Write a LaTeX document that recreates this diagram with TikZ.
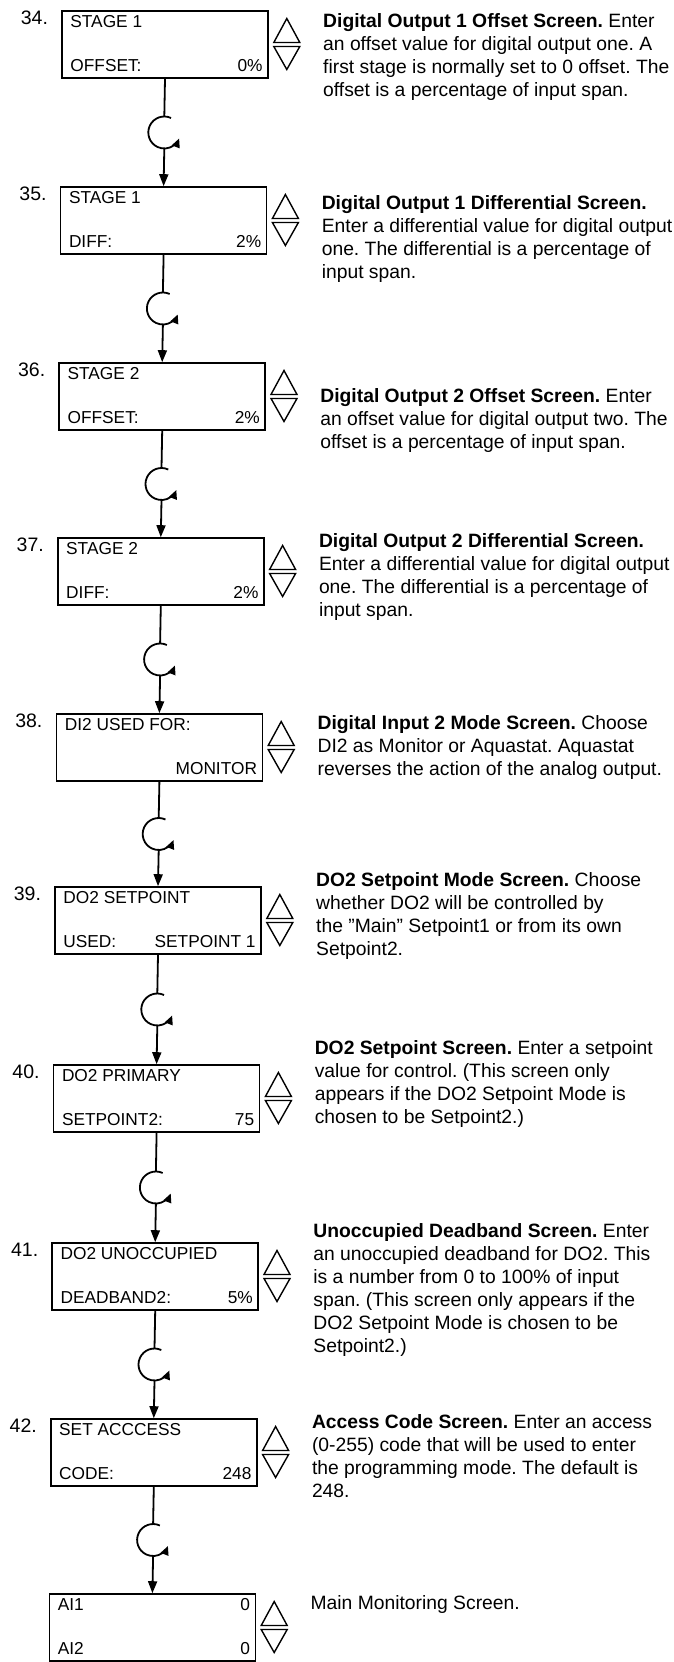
\documentclass[tikz,border=0pt]{standalone}
\usepackage{fontspec}
\setmainfont{Liberation Sans}
\usetikzlibrary{arrows.meta,calc}
\frenchspacing

\tikzset{
  screen/.style={draw, line width=1.6pt, minimum width=206pt, minimum height=67pt, inner sep=0pt},
  lcd/.style={font=\fontsize{17.3pt}{20pt}\selectfont, inner sep=0pt},
  stepno/.style={font=\fontsize{19.5pt}{23pt}\selectfont, inner sep=0pt, anchor=base east},
  blurb/.style={font=\fontsize{19.3pt}{23pt}\selectfont, inner sep=0pt, align=left, anchor=north west},
  flow/.style={line width=1.8pt},
  updown/.pic={
    \draw[line width=1.4pt] (0pt,2pt) -- (13pt,26pt) -- (26pt,2pt) -- cycle;
    \draw[line width=1.4pt] (0pt,-2pt) -- (13pt,-25pt) -- (26pt,-2pt) -- cycle;
  }
}

\begin{document}
\begin{tikzpicture}[x=1pt,y=-1pt]
\fill[white] (0,0) rectangle (673,1662);
\useasboundingbox (0,0) rectangle (673,1662);

% the screens, one below the other
\foreach \i/\top/\tl/\bl/\br in {
0/11/{STAGE 1}/{OFFSET:}/{0\%},
1/187/{STAGE 1}/{DIFF:}/{2\%},
2/363/{STAGE 2}/{OFFSET:}/{2\%},
3/538/{STAGE 2}/{DIFF:}/{2\%},
4/714/{DI2 USED FOR:}/{}/{MONITOR},
5/887/{DO2 SETPOINT}/{USED:}/{SETPOINT 1},
6/1065/{DO2 PRIMARY}/{SETPOINT2:}/{75},
7/1243/{DO2 UNOCCUPIED}/{DEADBAND2:}/{5\%},
8/1419/{SET ACCCESS}/{CODE:}/{248},
9/1594/{AI1}/{AI2}/{0}
} {
\node[screen] (scr\i) at ({165-1.4*\i},{\top+33.5}) {};
\node[lcd, anchor=base west] (scr\i-tl) at ([shift={(9,17.5)}]scr\i.north west) {\tl};
\node[lcd, anchor=base west] (scr\i-bl) at ([shift={(9,-7)}]scr\i.south west) {\bl};
\node[lcd, anchor=base east] (scr\i-br) at ([shift={(-6,-7)}]scr\i.south east) {\br};
\pic (ud\i) at ([xshift=5pt]scr\i.east) {updown};
}
\node[lcd, anchor=base east] (scr9-tr) at ([shift={(-6,17.5)}]scr9.north east) {0};

% step numbers
\foreach \i [evaluate=\i as \k using int(\i+34)] in {0,...,8}
  \node[stepno] (num\i) at ([shift={(-13,14)}]scr\i.north west) {\k.};

% connectors with the turn symbol
\foreach \i [evaluate=\i as \j using int(\i+1)] in {0,...,8} {
\coordinate (loop\i) at ($(scr\i.south)!0.5!(scr\j.north)$);
\draw[flow] (scr\i.south) -- ([yshift=16pt]loop\i);
\draw[flow, -{Triangle[length=9pt,width=8pt]}] ([shift={(65:16pt)}]loop\i) arc[start angle=65, end angle=338, radius=16pt];
\draw[flow, -{Triangle[length=12pt,width=9pt]}] ([yshift=-16pt]loop\i) -- (scr\j.north);
}

% descriptions
\foreach \i/\base/\txt in {
0/27/{\textbf{Digital Output 1 Offset Screen.} Enter\\an offset value for digital output one. A\\first stage is normally set to 0 offset. The\\offset is a percentage of input span.},
1/209/{\textbf{Digital Output 1 Differential Screen.}\\Enter a differential value for digital output\\one. The differential is a percentage of\\input span.},
2/402/{\textbf{Digital Output 2 Offset Screen.} Enter\\an offset value for digital output two. The\\offset is a percentage of input span.},
3/547/{\textbf{Digital Output 2 Differential Screen.}\\Enter a differential value for digital output\\one. The differential is a percentage of\\input span.},
4/729/{\textbf{Digital Input 2 Mode Screen.} Choose\\DI2 as Monitor or Aquastat. Aquastat\\reverses the action of the analog output.},
5/886/{\textbf{DO2 Setpoint Mode Screen.} Choose\\whether DO2 will be controlled by\\the {\char34}Main{\char34} Setpoint1 or from its own\\Setpoint2.},
6/1054/{\textbf{DO2 Setpoint Screen.} Enter a setpoint\\value for control. (This screen only\\appears if the DO2 Setpoint Mode is\\chosen to be Setpoint2.)},
7/1237/{\textbf{Unoccupied Deadband Screen.} Enter\\an unoccupied deadband for DO2. This\\is a number from 0 to 100\% of input\\span. (This screen only appears if the\\DO2 Setpoint Mode is chosen to be\\Setpoint2.)},
8/1428/{\textbf{Access Code Screen.} Enter an access\\(0-255) code that will be used to enter\\the programming mode. The default is\\248.},
9/1609/{Main Monitoring Screen.}
}
  \node[blurb] (note\i) at ({323-1.4*\i},{\base-14}) {\txt};
\end{tikzpicture}
\end{document}
